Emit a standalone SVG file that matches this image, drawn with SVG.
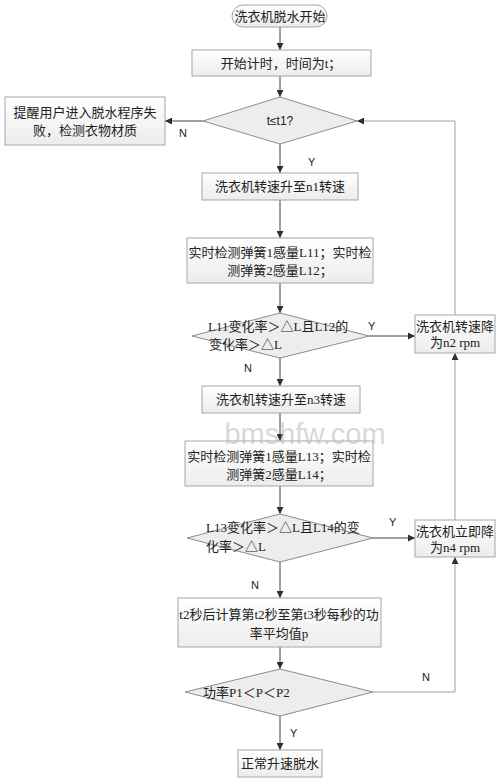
<svg xmlns="http://www.w3.org/2000/svg" width="500" height="781" viewBox="0 0 500 781">
<style>
.box{fill:url(#g);stroke:#a6a6a6;stroke-width:1}
.dia{fill:#ededed;stroke:#8c8c8c;stroke-width:1}
.t{font-family:"Liberation Serif","Noto Sans CJK SC",serif;font-size:13px;fill:#222}
.lbl{font-family:"Liberation Sans",Arial,sans-serif;font-size:11px;fill:#222}
.c{fill:none;stroke:#404040;stroke-width:1}
.f{fill:none;stroke:#a0a0a0;stroke-width:1}
</style>
<defs>
<linearGradient id="g" x1="0" y1="0" x2="0" y2="1"><stop offset="0" stop-color="#ffffff"/><stop offset="1" stop-color="#ececec"/></linearGradient>
<marker id="a" viewBox="0 0 10 10" refX="10" refY="5" markerWidth="7" markerHeight="7" orient="auto" markerUnits="userSpaceOnUse"><path d="M0,0L10,5L0,10z" fill="#303030"/></marker>
</defs>
<rect width="500" height="781" fill="#ffffff"/>
<g id="connectors">
<line class="c" x1="280" y1="27" x2="280" y2="50" marker-end="url(#a)"/>
<line class="c" x1="280" y1="76" x2="280" y2="97" marker-end="url(#a)"/>
<line class="c" x1="203" y1="121" x2="165" y2="121" marker-end="url(#a)"/>
<line class="c" x1="280" y1="144" x2="280" y2="173" marker-end="url(#a)"/>
<line class="c" x1="280" y1="200" x2="280" y2="238" marker-end="url(#a)"/>
<line class="c" x1="280" y1="283" x2="280" y2="313" marker-end="url(#a)"/>
<line class="c" x1="369" y1="336" x2="415" y2="336" marker-end="url(#a)"/>
<line class="c" x1="280" y1="358" x2="280" y2="386" marker-end="url(#a)"/>
<line class="c" x1="280" y1="413" x2="280" y2="441" marker-end="url(#a)"/>
<line class="c" x1="280" y1="486" x2="280" y2="514" marker-end="url(#a)"/>
<line class="c" x1="373" y1="538" x2="415" y2="538" marker-end="url(#a)"/>
<line class="c" x1="280" y1="562" x2="280" y2="598" marker-end="url(#a)"/>
<line class="c" x1="280" y1="647" x2="280" y2="669" marker-end="url(#a)"/>
<line class="c" x1="280" y1="716" x2="280" y2="750" marker-end="url(#a)"/>
<polyline class="f" points="455,315 455,121 357,121" marker-end="url(#a)"/>
<line class="f" x1="455" y1="520" x2="455" y2="353" marker-end="url(#a)"/>
<polyline class="f" points="373,692 455,692 455,557" marker-end="url(#a)"/>
<text class="lbl" x="179" y="137">N</text>
<text class="lbl" x="308" y="166">Y</text>
<text class="lbl" x="368" y="330">Y</text>
<text class="lbl" x="244" y="372">N</text>
<text class="lbl" x="389" y="526">Y</text>
<text class="lbl" x="251" y="589">N</text>
<text class="lbl" x="422" y="681">N</text>
<text class="lbl" x="290" y="737">Y</text>
</g>
<g id="start"><rect class="box" x="232" y="5" width="95" height="22" rx="11"/><text class="t" x="280" y="21" text-anchor="middle">洗衣机脱水开始</text></g>
<g id="timer"><rect class="box" x="192" y="50" width="179" height="26"/><text class="t" x="281" y="68" text-anchor="middle">开始计时，时间为t；</text></g>
<g id="d1"><polygon class="dia" points="280,97 357,121 280,144 203,121"/><text x="280" y="125" text-anchor="middle" font-family="Liberation Sans,Arial,sans-serif" font-size="12" fill="#222">t≤t1?</text></g>
<g id="fail"><rect class="box" x="5" y="97" width="160" height="48"/><text class="t" x="85" y="117" text-anchor="middle">提醒用户进入脱水程序失</text><text class="t" x="85" y="135" text-anchor="middle">败，检测衣物材质</text></g>
<g id="n1"><rect class="box" x="202" y="173" width="156" height="27"/><text class="t" x="280" y="191" text-anchor="middle">洗衣机转速升至n1转速</text></g>
<g id="l11"><rect class="box" x="187" y="238" width="186" height="45"/><text class="t" x="280" y="257" text-anchor="middle">实时检测弹簧1感量L11；实时检</text><text class="t" x="280" y="275" text-anchor="middle">测弹簧2感量L12；</text></g>
<g id="d2"><polygon class="dia" points="280,313 369,336 280,358 192,336"/><text class="t" x="208" y="331">L11变化率＞△L且L12的</text><text class="t" x="209" y="349">变化率＞△L</text></g>
<g id="n2"><rect class="box" x="415" y="315" width="80" height="38"/><text class="t" x="455" y="331" text-anchor="middle">洗衣机转速降</text><text class="t" x="455" y="347" text-anchor="middle">为n2 rpm</text></g>
<g id="n3"><rect class="box" x="202" y="386" width="158" height="27"/><text class="t" x="281" y="404" text-anchor="middle">洗衣机转速升至n3转速</text></g>
<g id="l13"><rect class="box" x="185" y="441" width="188" height="45"/><text class="t" x="279" y="461" text-anchor="middle">实时检测弹簧1感量L13；实时检</text><text class="t" x="279" y="479" text-anchor="middle">测弹簧2感量L14；</text></g>
<g id="d3"><polygon class="dia" points="280,514 373,538 280,562 187,538"/><text class="t" x="206" y="532">L13变化率＞△L且L14的变</text><text class="t" x="206" y="551">化率＞△L</text></g>
<g id="n4"><rect class="box" x="415" y="520" width="80" height="37"/><text class="t" x="455" y="536" text-anchor="middle">洗衣机立即降</text><text class="t" x="455" y="552" text-anchor="middle">为n4 rpm</text></g>
<g id="t2"><rect class="box" x="178" y="598" width="203" height="49"/><text class="t" x="279" y="619" text-anchor="middle">t2秒后计算第t2秒至第t3秒每秒的功</text><text class="t" x="279" y="638" text-anchor="middle">率平均值p</text></g>
<g id="d4"><polygon class="dia" points="280,669 373,692 280,716 185,692"/><text class="t" x="203" y="697">功率P1＜P＜P2</text></g>
<g id="end"><rect class="box" x="238" y="750" width="84" height="27"/><text class="t" x="280" y="768" text-anchor="middle">正常升速脱水</text></g>
<text x="305" y="444" font-family="Liberation Sans,Arial,sans-serif" font-size="29" fill="#bdbdbd" fill-opacity="0.6" text-anchor="middle">bmshfw.com</text>
</svg>
